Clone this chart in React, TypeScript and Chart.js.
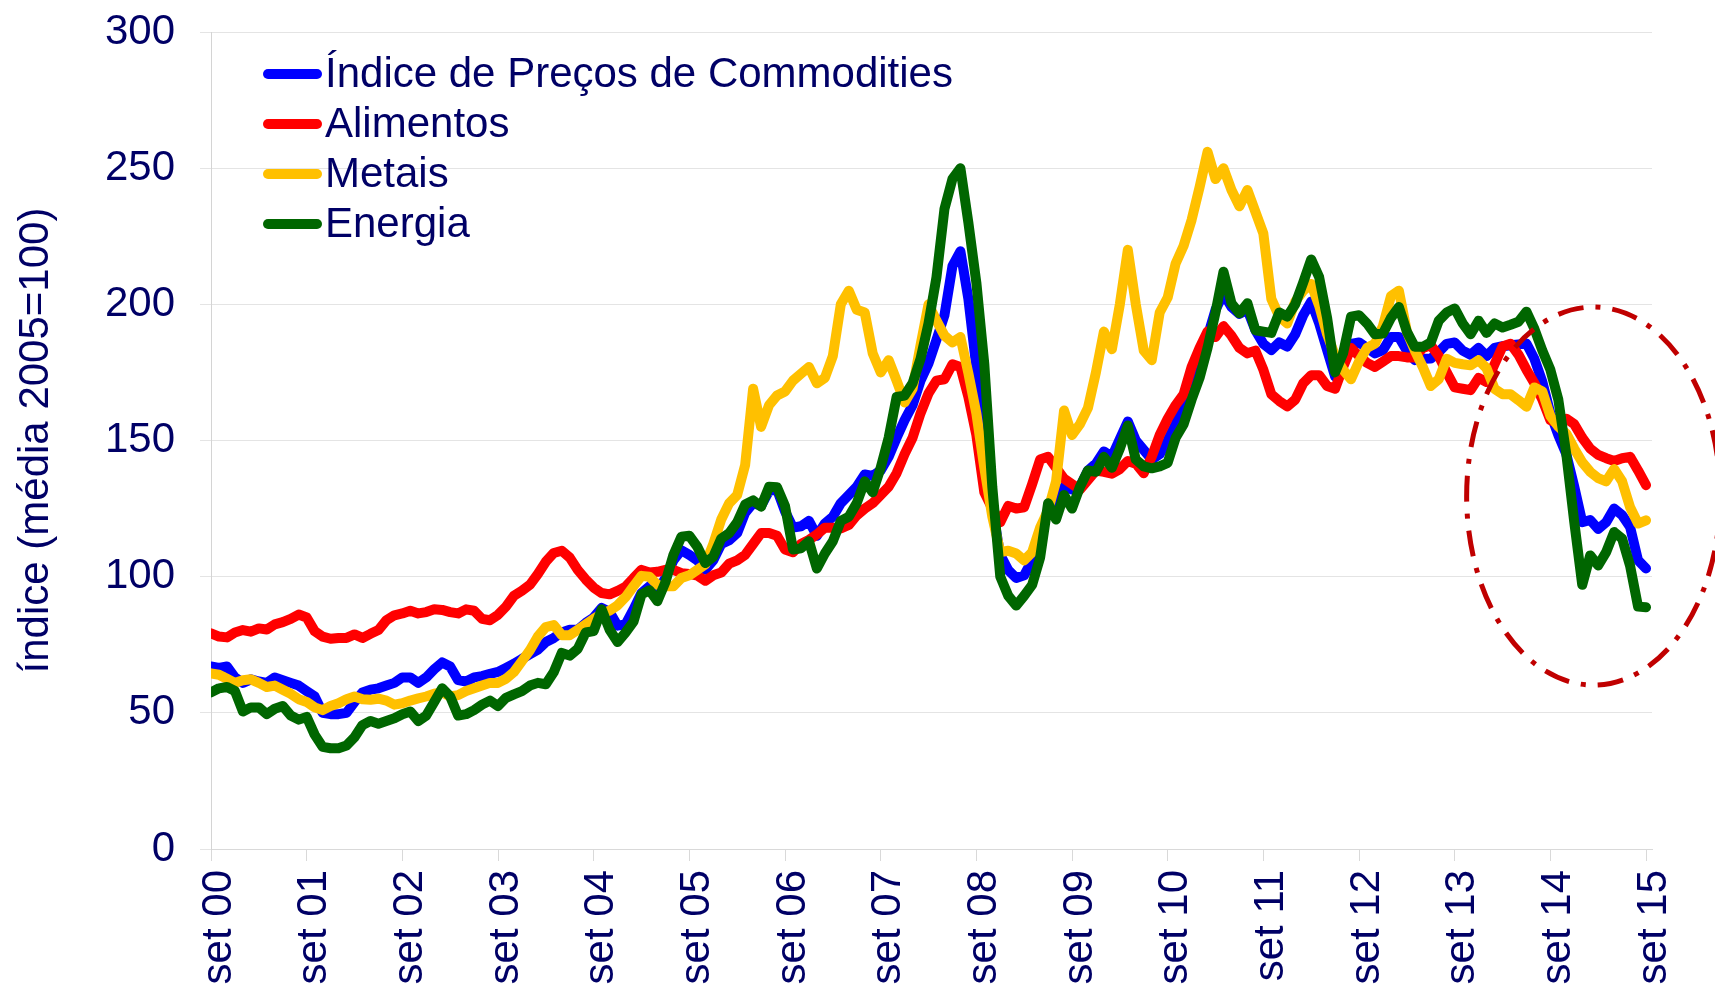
import React, { useEffect, useRef } from 'react';
import { Chart, registerables } from 'chart.js';

Chart.register(...registerables);

// Tick labels (one per September, every 12 months)
const tickLabels = [
  'set 00', 'set 01', 'set 02', 'set 03', 'set 04', 'set 05', 'set 06', 'set 07',
  'set 08', 'set 09', 'set 10', 'set 11', 'set 12', 'set 13', 'set 14', 'set 15',
];

const seriesNames = ['Índice de Preços de Commodities', 'Alimentos', 'Metais', 'Energia'];

// Monthly values, set 2000 .. set 2015 (média 2005 = 100)
const indice = [
  67, 66.5, 67, 63, 61, 62.3, 61.5, 61, 63, 62, 61, 60,
  58, 56, 50, 49.5, 49.5, 50, 54, 57.5, 58.5, 59, 60, 61,
  63, 63, 61, 63, 66, 68.5, 67, 62, 61.5, 63, 63.5, 64.3,
  65, 66.5, 68, 69.8, 71.5, 73.2, 76, 77.5, 79.5, 80.5, 80.5, 83,
  85, 88.5, 87, 82, 82.5, 88, 94, 96.5, 94.5, 99.5, 106, 109.7,
  108, 106, 102.5, 106, 112, 113.4, 116, 123.5, 127, 126, 131.5, 132,
  124, 118, 118.5, 120.5, 115, 119.5, 122, 127, 130, 133, 137.5, 137,
  139, 144, 151, 157.5, 163, 172, 178.3, 187, 196, 214, 219.5, 202,
  177, 152, 125, 108, 102.4, 99.5, 100.5, 106, 116, 124.4, 123.5, 133,
  132, 133, 139, 141.5, 146, 144, 150.5, 157, 150, 146.5, 143, 145,
  150, 156, 165, 172, 180, 188, 198, 204, 199, 196.5, 198, 190.5,
  185.5, 183.2, 186, 184.5, 189, 196, 201, 193, 183.2, 173.5, 178, 185.5,
  186, 184, 182, 183.2, 188, 188, 183, 179.5, 180, 180.1, 182.5, 185.5,
  186, 183, 181.5, 184, 181, 184, 184.6, 185, 185.3, 185.6, 180, 171.5,
  160, 152, 145, 133, 120, 120.8, 117.5, 120, 125, 122.6, 118.3, 106,
  103,
];

const alimentos = [
  79.2, 78, 77.7, 79.5, 80.4, 79.8, 81, 80.6, 82.5, 83.3, 84.5, 86.1,
  85, 80, 78, 77.2, 77.5, 77.5, 78.8, 77.5, 79, 80.4, 84, 85.8,
  86.5, 87.5, 86.5, 87, 88, 87.8, 87, 86.5, 88, 87.5, 84.5, 84,
  86, 89, 93, 94.8, 97, 101, 105.5, 108.7, 109.5, 107, 102.5, 99,
  96, 94, 93.5, 94.8, 96.3, 99.5, 102.5, 101.5, 101.8, 102.5, 102.5, 101.3,
  101, 100.4, 98.5, 100.5, 101.5, 104.8, 106, 108, 112, 116, 116, 115,
  110, 109, 112, 113.5, 115.5, 118, 118, 117.7, 119, 122.5, 125, 127,
  130, 133, 138, 145, 151, 160, 167.3, 172, 172.5, 178, 177, 166,
  152, 131, 125, 120, 126, 125, 125.5, 134, 143, 144, 140, 136,
  134, 132, 135.5, 139, 138.5, 137.8, 139.5, 142.5, 141.5, 138, 144, 152,
  158, 163, 167, 177, 184, 190, 188, 192, 188.5, 184, 182, 183,
  176, 167, 164.5, 162.5, 165, 171, 174, 174, 170, 169, 177, 184,
  181, 178.5, 177, 179, 181, 181, 180.5, 180.5, 184, 185, 181, 175,
  169.5, 169, 168.5, 173, 171.5, 178, 184.5, 185.5, 181.5, 176, 171, 165,
  157.5, 156.3, 158, 156, 151, 147, 144.7, 143.5, 142.5, 143.5, 144, 139,
  133.6,
];

const metais = [
  64.5, 64, 62.5, 61, 62, 62.3, 61, 59.5, 60, 58.5, 57, 55,
  54, 52, 51, 52.5, 53.5, 55, 56, 55, 54.8, 55.2, 54.5, 53,
  53.5, 54.5, 55.3, 56, 57, 57.5, 56, 56.5, 58, 59, 60, 61,
  61, 62.5, 65, 69, 73, 78, 81.5, 82.2, 78.5, 78.5, 80.5, 82.5,
  84.5, 86.3, 87.5, 89.5, 92.5, 96.5, 100.3, 100, 97, 96.5, 96.5, 99.5,
  100.5, 102.5, 104.5, 112, 121, 127, 130, 141, 169, 155, 163, 166.5,
  168, 172, 174.5, 177, 171, 173, 181, 200, 205, 198, 197, 182,
  175, 179.5, 172, 164, 169, 185, 200, 194, 188.5, 186, 188, 174.7,
  160, 140, 122, 109, 109.5, 108.5, 106, 109, 118, 124.4, 135, 161,
  152, 156, 162, 175, 190, 183.5, 200, 220, 200, 183, 179.5, 197,
  202.5, 215, 221.5, 231, 243, 256, 246, 250, 242, 236, 242, 234,
  226, 202, 195.5, 193, 201, 205, 207.5, 199.5, 189, 181, 176, 172.5,
  179, 184, 185.6, 192, 203, 205, 190, 183, 177, 170, 172.5, 180,
  178.5, 178, 177.6, 179.5, 176.5, 169, 167, 167, 164.8, 162.4, 169.5, 168,
  159, 155.1, 152.5, 147, 142, 138.5, 136.2, 135, 139.5, 135, 125.5, 119.5,
  120.7,
];

const energia = [
  57.5, 59, 59.5, 58, 50.5, 52, 52, 49.5, 51.5, 52.5, 49, 47.5,
  48.5, 42, 37.5, 37, 37, 38, 41, 45.5, 47, 46, 47, 48,
  49.5, 50.5, 47, 49, 54, 59, 56, 49, 49.5, 51, 53, 54.5,
  52.5, 55.5, 56.8, 58, 60, 61, 60.5, 65, 72, 71, 73.5, 79.5,
  80, 88, 80.5, 76, 79.5, 83.5, 93.5, 95, 91, 98, 108, 114.7,
  115, 111, 105, 107.3, 114, 116, 120, 126.5, 128, 125.7, 133, 132.8,
  126, 110, 110.4, 113, 103, 108.5, 113, 120.5, 122, 127, 135, 131,
  140, 151, 166, 166.5, 171, 180, 193, 210, 235, 246, 250, 230,
  208, 178, 133, 100, 93, 89.4, 93, 97, 107, 127, 121, 130,
  125, 133, 139, 138.5, 144, 140, 147, 155.5, 143, 140.5, 139.8, 140.5,
  141.8, 151, 156, 165, 173, 184, 197, 212, 200.4, 196.7, 200.4, 190.5,
  190, 189.5, 197, 195.5, 200, 208, 216.5, 210, 195, 175, 182, 195.5,
  196, 193, 189, 189.3, 195, 199, 190, 184.4, 184.4, 186, 194, 197,
  198.5, 193, 189, 194, 189.5, 193, 191.5, 192.5, 193.6, 197.3, 191, 183,
  176, 165, 145, 120, 97, 107.8, 104.1, 109, 116.4, 114, 104, 89,
  88.8,
];

// Highlighted region (dash-dot ellipse), in data units: month index / index value
const highlightCenter = { month: 173.4, value: 129.6 };
const highlightRadius = { months: 15.9, value: 69.4 };

const TEXT = '#000066';
const FONT = "'Liberation Sans', Arial, sans-serif";

export default function App() {
  const ref = useRef<HTMLCanvasElement>(null);

  useEffect(() => {
    const months = indice.map((_, i) => i);
    const colors = ['#0000FF', '#FF0000', '#FFC000', '#006600'];
    const seriesData = [indice, alimentos, metais, energia];

    const legendPlugin = {
      id: 'insideLegend',
      afterDraw(chart: any) {
        const { ctx, chartArea } = chart;
        ctx.save();
        ctx.font = `42px ${FONT}`;
        ctx.textBaseline = 'middle';
        ctx.textAlign = 'left';
        chart.data.datasets.forEach((ds: any, i: number) => {
          const y = chartArea.top + 42 + i * 50;
          const x0 = chartArea.left + 57;
          ctx.strokeStyle = ds.borderColor;
          ctx.lineWidth = 10;
          ctx.lineCap = 'round';
          ctx.setLineDash([]);
          ctx.beginPath();
          ctx.moveTo(x0, y);
          ctx.lineTo(x0 + 49, y);
          ctx.stroke();
          ctx.fillStyle = TEXT;
          ctx.fillText(ds.label, x0 + 57, y + 1);
        });
        ctx.restore();
      },
    };

    const ellipsePlugin = {
      id: 'highlightEllipse',
      afterDatasetsDraw(chart: any) {
        const { ctx } = chart;
        const xs = chart.scales.x;
        const ys = chart.scales.y;
        const cx = xs.getPixelForValue(highlightCenter.month);
        const cy = ys.getPixelForValue(highlightCenter.value);
        const rx = Math.abs(xs.getPixelForValue(highlightCenter.month + highlightRadius.months) - cx);
        const ry = Math.abs(ys.getPixelForValue(highlightCenter.value + highlightRadius.value) - cy);
        ctx.save();
        ctx.beginPath();
        ctx.ellipse(cx, cy, rx, ry, 0, 0, Math.PI * 2);
        ctx.setLineDash([26, 12, 5, 12]);
        ctx.lineWidth = 5;
        ctx.lineCap = 'butt';
        ctx.strokeStyle = '#C00000';
        ctx.stroke();
        ctx.restore();
      },
    };

    const chart = new Chart(ref.current as HTMLCanvasElement, {
      type: 'line',
      data: {
        labels: months,
        datasets: seriesData.map((d, i) => ({
          label: seriesNames[i],
          data: d,
          borderColor: colors[i],
          backgroundColor: colors[i],
          borderWidth: 10,
          pointRadius: 0,
          pointHoverRadius: 0,
          tension: 0,
          borderJoinStyle: 'round',
          borderCapStyle: 'round',
          fill: false,
          order: seriesData.length - i,
        })),
      },
      options: {
        responsive: false,
        animation: false,
        devicePixelRatio: 1,
        layout: { padding: { top: 32, right: 63, bottom: 0, left: 0 } },
        plugins: {
          legend: { display: false },
          tooltip: { enabled: false },
        },
        scales: {
          x: {
            type: 'linear',
            min: 0,
            max: 180.75,
            afterBuildTicks: (scale: any) => {
              scale.ticks = tickLabels.map((_, i) => ({ value: i * 12 }));
            },
            afterFit: (scale: any) => {
              scale.height = 143;
            },
            ticks: {
              autoSkip: false,
              minRotation: 90,
              maxRotation: 90,
              padding: 9,
              labelOffset: 8,
              color: TEXT,
              font: { family: FONT, size: 42 },
              callback: (v: any) => tickLabels[Math.round(Number(v) / 12)] ?? '',
            },
            grid: {
              drawOnChartArea: false,
              drawTicks: true,
              tickLength: 12,
              color: '#d9d9d9',
            },
            border: { display: true, color: '#d9d9d9' },
          },
          y: {
            min: 0,
            max: 300,
            afterFit: (scale: any) => {
              scale.width = 211;
              scale.paddingTop = 0;
              scale.paddingBottom = 0;
            },
            ticks: {
              stepSize: 50,
              padding: 25,
              color: TEXT,
              font: { family: FONT, size: 42 },
            },
            grid: {
              color: '#e4e4e4',
              tickLength: 11,
            },
            border: { display: true, color: '#d4d4d4' },
            title: {
              display: true,
              text: 'índice (média 2005=100)',
              color: TEXT,
              font: { family: FONT, size: 42 },
              padding: { top: 11, bottom: 0 },
            },
          },
        },
      },
      plugins: [ellipsePlugin, legendPlugin],
    } as any);

    return () => chart.destroy();
  }, []);

  return (
    <div style={{ position: 'absolute', left: 0, top: 0, width: 1715, height: 992, background: '#ffffff' }}>
      <canvas ref={ref} width={1715} height={992} style={{ width: 1715, height: 992, display: 'block' }} />
    </div>
  );
}
